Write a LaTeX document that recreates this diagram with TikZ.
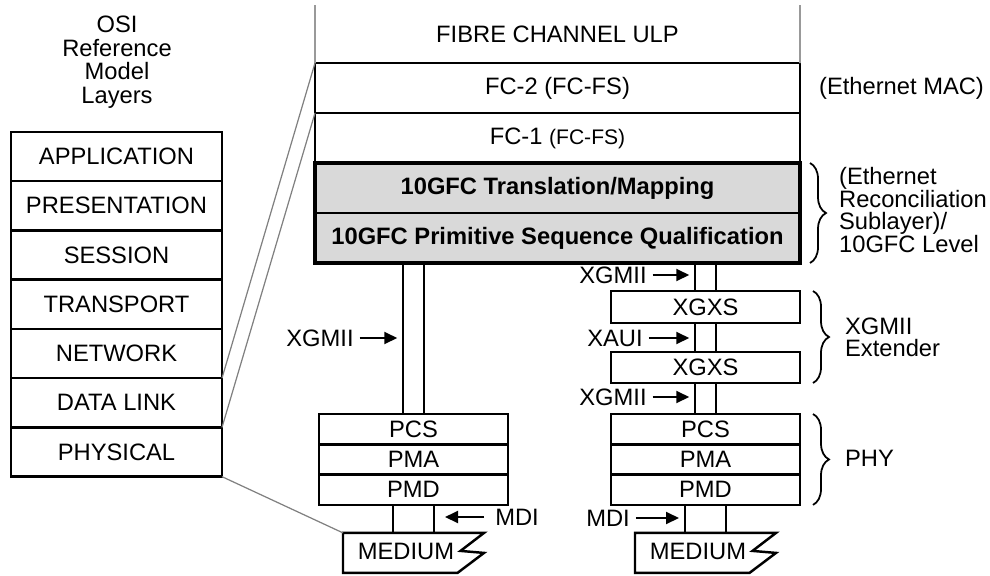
\documentclass[tikz,border=0pt]{standalone}
\usepackage{fontspec}
\setmainfont{Liberation Sans}
\usetikzlibrary{positioning,arrows.meta,decorations.pathreplacing}

\tikzset{
    lbl/.style={inner sep=1pt, font=\fontsize{13.5}{15}\selectfont},
    osibox/.style={draw, line width=1.4pt, outer sep=0pt, inner sep=0pt,
        minimum width=42.2mm, minimum height=9.86mm, font=\fontsize{13.5}{15}\selectfont},
    fcbox/.style={draw, line width=1.4pt, outer sep=0pt, inner sep=0pt,
        minimum width=97mm, minimum height=10mm, font=\fontsize{13.5}{15}\selectfont},
    mapbox/.style={fcbox, fill=gray!30, font=\fontsize{13.5}{15}\selectfont\bfseries},
    phybox/.style={draw, line width=1.4pt, outer sep=0pt, inner sep=0pt,
        minimum width=37.8mm, minimum height=#1, font=\fontsize{13.5}{15}\selectfont},
    phybox/.default=6.06mm,
    bar/.style={draw, line width=1.4pt, outer sep=0pt, inner sep=0pt,
        minimum width=4.1mm, minimum height=#1},
    ptr/.style={-{Triangle[length=2.6mm,width=2.4mm]}, line width=1.1pt,
        shorten <=0.8mm, shorten >=1.2mm},
    guide/.style={gray, line width=0.7pt},
    brc/.style={decorate, decoration={brace, amplitude=3.2mm}, line width=1pt}
}

\begin{document}
\begin{tikzpicture}[x=0.2mm, y=-0.2mm]
    \useasboundingbox (0,0) rectangle (990,575);

    % OSI reference model
    \node[lbl, align=center, font=\fontsize{13.5}{13.4}\selectfont] (osititle) at (117,62)
        {OSI\\Reference\\Model\\Layers};
    \foreach \name [count=\i] in {APPLICATION,PRESENTATION,SESSION,TRANSPORT,NETWORK,DATA LINK,PHYSICAL}
        \node[osibox] (osi\i) at (116.5,{156.5+(\i-1)*49.25}) {\name};

    % Fibre channel stack
    \node[lbl] (ulp) at (557.5,34) {FIBRE CHANNEL ULP};
    \node[fcbox] (fc2) at (557.5,88) {FC-2 (FC-FS)};
    \node[fcbox, below=0pt of fc2] (fc1) {FC-1 {\fontsize{12}{14}\selectfont(FC-FS)}};
    \node[mapbox, below=0pt of fc1] (map) {10GFC Translation/Mapping};
    \node[mapbox, below=0pt of map] (psq) {10GFC Primitive Sequence Qualification};
    \draw[line width=2pt] (map.north west) rectangle (psq.south east);
    \coordinate (ulpl) at (315,5);
    \coordinate (ulpr) at (800,5);
    \draw[gray!80, line width=1.1pt] (fc2.north west) -- (ulpl);
    \draw[gray!80, line width=1.1pt] (fc2.north east) -- (ulpr);

    % Left PHY column
    \node[bar=30.2mm] (lbar) at (413.5,338.5) {};
    \node[phybox, below=0pt of lbar] (lpcs) {PCS};
    \node[phybox, below=0pt of lpcs] (lpma) {PMA};
    \node[phybox, below=0pt of lpma] (lpmd) {PMD};
    \node[bar=5.6mm, minimum width=8.2mm, below=0pt of lpmd] (lmdi) {};
    \draw[line width=1.4pt, shift={(lmdi.south)}]
        (-70.5,0) -- (70.5,0) -- (47,18) -- (70.5,20) -- (44,40) -- (-70.5,40) -- cycle;
    \node[lbl] (lmed) at ([shift={(-7.5,19)}]lmdi.south) {MEDIUM};
    \coordinate (lmedtl) at ([xshift=-14.1mm]lmdi.south);

    \node[lbl] (lxgmii) at (320,338) {XGMII};
    \draw[ptr] (lxgmii.east) -- (lbar.west |- lxgmii.east);
    \node[lbl] (lmdilbl) at (517,517) {MDI};
    \draw[ptr, shorten <=1.8mm, shorten >=2.2mm] (lmdilbl.west) -- (lmdi.east |- lmdilbl.west);

    % Right PHY column with XGMII extender
    \node[bar=5.6mm] (rbar1) at (705.5,277) {};
    \node[phybox=6.4mm, below=0pt of rbar1] (rxgxs1) {XGXS};
    \node[bar=5.8mm, below=0pt of rxgxs1] (rbar2) {};
    \node[phybox=6.2mm, below=0pt of rbar2] (rxgxs2) {XGXS};
    \node[bar=6.2mm, below=0pt of rxgxs2] (rbar3) {};
    \node[phybox, below=0pt of rbar3] (rpcs) {PCS};
    \node[phybox, below=0pt of rpcs] (rpma) {PMA};
    \node[phybox, below=0pt of rpma] (rpmd) {PMD};
    \node[bar=5.6mm, minimum width=8.2mm, below=0pt of rpmd] (rmdi) {};
    \draw[line width=1.4pt, shift={(rmdi.south)}]
        (-70.5,0) -- (70.5,0) -- (47,18) -- (70.5,20) -- (44,40) -- (-70.5,40) -- cycle;
    \node[lbl] (rmed) at ([shift={(-7.5,19)}]rmdi.south) {MEDIUM};

    \node[lbl] (rxgmii1) at (613,275) {XGMII};
    \draw[ptr] (rxgmii1.east) -- (rbar1.west |- rxgmii1.east);
    \node[lbl] (rxaui) at (615,338) {XAUI};
    \draw[ptr] (rxaui.east) -- (rbar2.west |- rxaui.east);
    \node[lbl] (rxgmii2) at (613,397) {XGMII};
    \draw[ptr] (rxgmii2.east) -- (rbar3.west |- rxgmii2.east);
    \node[lbl] (rmdilbl) at (608,518) {MDI};
    \draw[ptr] (rmdilbl.east) -- (rmdi.west |- rmdilbl.east);

    % Mapping lines
    \draw[guide] (osi6.north east) -- (fc2.north west);
    \draw[guide] (osi6.south east) -- (fc1.north west);
    \draw[guide] (osi7.south east) -- (lmedtl);

    % Braces and Ethernet names
    \node[lbl, anchor=west] (mac) at (817,88) {(Ethernet MAC)};
    \draw[brc] ([xshift=2mm]map.north east) -- ([xshift=2mm]psq.south east);
    \node[lbl, anchor=west, align=left, font=\fontsize{13.5}{12.9}\selectfont] (rs) at (837,210)
        {(Ethernet\\Reconciliation\\Sublayer)/\\10GFC Level};
    \draw[brc] ([xshift=2.6mm]rxgxs1.north east) -- ([xshift=2.6mm]rxgxs2.south east);
    \node[lbl, anchor=west, align=left, font=\fontsize{13.5}{12.6}\selectfont] (ext) at (843,337)
        {XGMII\\Extender};
    \draw[brc] ([xshift=2.6mm]rpcs.north east) -- ([xshift=2.6mm]rpmd.south east);
    \node[lbl, anchor=west] (phy) at (843,458) {PHY};
\end{tikzpicture}
\end{document}
